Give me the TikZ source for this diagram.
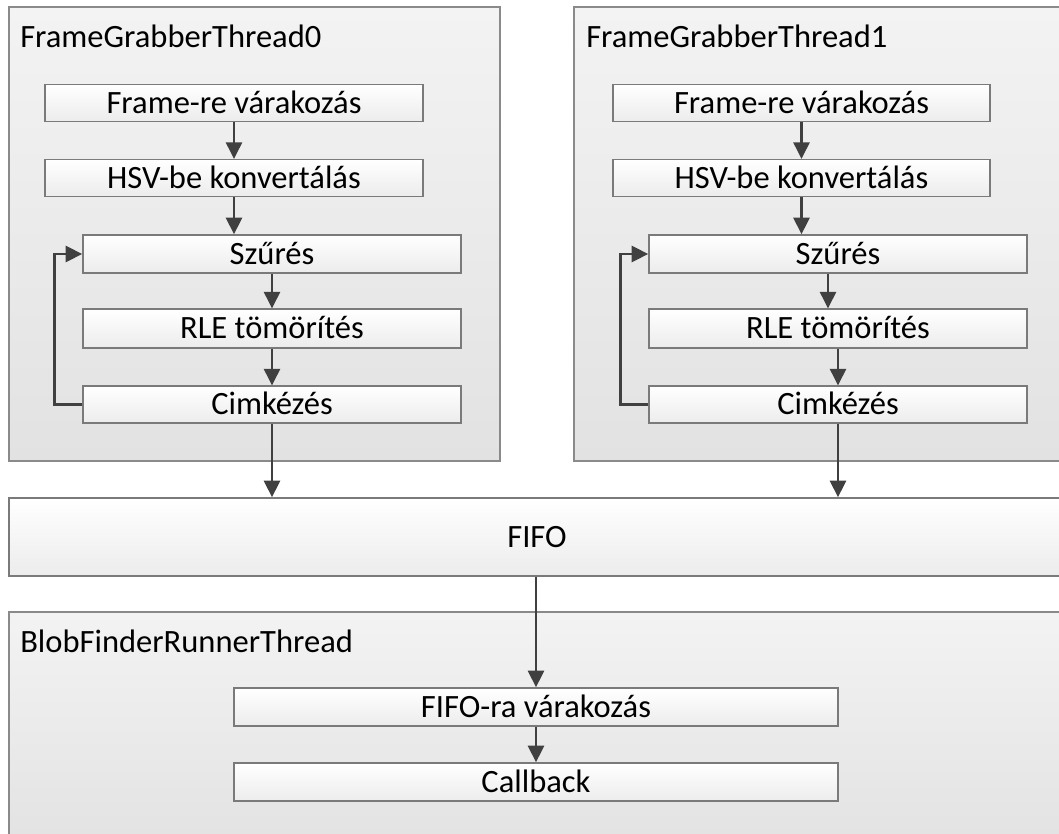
\documentclass[tikz,border=0pt]{standalone}
\usepackage{fontspec}
\setmainfont{Carlito}
\usetikzlibrary{arrows.meta}

\definecolor{panelline}{HTML}{8A8A8A}
\definecolor{boxline}{HTML}{7A7A7A}
\definecolor{flowline}{HTML}{404040}
\definecolor{paneltop}{HTML}{F3F3F3}
\definecolor{panelbot}{HTML}{E2E2E2}
\definecolor{boxbot}{HTML}{ECECEC}

\begin{document}
\begin{tikzpicture}[
  x=0.75pt, y=-0.75pt,
  every node/.style={font=\fontsize{24.4}{29}\selectfont, text=black},
  panel/.style={draw=panelline, line width=1.1pt, top color=paneltop, bottom color=panelbot,
                rectangle, inner sep=0pt},
  stepbox/.style={draw=boxline, line width=1.1pt, top color=white, bottom color=boxbot,
                  rectangle, inner sep=0pt, text height=15.7pt, text depth=0pt,
                  minimum height=27.5pt},
  title/.style={anchor=base west, inner sep=0pt},
  flow/.style={draw=flowline, line width=2.2pt,
               -{Triangle[length=12.5pt,width=12pt]}}
]
\useasboundingbox (0,0) rectangle (1059,834);
\clip (0,0) rectangle (1059,834);

% ---- thread containers ----
\node[panel, minimum width=368.25pt, minimum height=340.5pt] (thread0) at (254.5,234) {};
\node[panel, minimum width=372pt, minimum height=340.5pt] (thread1) at (822,234) {};
\node[title] (title0) at (20,48) {FrameGrabberThread0};
\node[title] (title1) at (586,48) {FrameGrabberThread1};

% ---- FrameGrabberThread0 steps ----
\node[stepbox, minimum width=283.5pt] (f0) at (234,103) {Frame-re várakozás};
\node[stepbox, minimum width=283.5pt] (h0) at (234,178) {HSV-be konvertálás};
\node[stepbox, minimum width=283.5pt, minimum height=28.5pt] (s0) at (272,254) {Szűrés};
\node[stepbox, minimum width=283.5pt, minimum height=29pt] (r0) at (272,328.5) {RLE tömörítés};
\node[stepbox, minimum width=283.5pt] (c0) at (272,404.5) {Cimkézés};

% ---- FrameGrabberThread1 steps ----
\node[stepbox, minimum width=282.75pt] (f1) at (801.5,103) {Frame-re várakozás};
\node[stepbox, minimum width=282.75pt] (h1) at (801.5,178) {HSV-be konvertálás};
\node[stepbox, minimum width=283.5pt, minimum height=28.5pt] (s1) at (838,254) {Szűrés};
\node[stepbox, minimum width=283.5pt, minimum height=29pt] (r1) at (838,328.5) {RLE tömörítés};
\node[stepbox, minimum width=283.5pt] (c1) at (838,404.5) {Cimkézés};

% ---- shared queue ----
\node[stepbox, minimum width=792pt, minimum height=58.5pt] (fifo) at (537,537) {FIFO};

% ---- consumer thread ----
\node[panel, minimum width=792pt, minimum height=178.5pt] (runner) at (537,731) {};
\node[title] (title2) at (20,652) {BlobFinderRunnerThread};
\node[stepbox, minimum width=453pt, minimum height=28.5pt] (w2) at (536,707) {FIFO-ra várakozás};
\node[stepbox, minimum width=453pt, minimum height=28.5pt] (cb) at (536,782) {Callback};

% ---- flow in thread 0 ----
\draw[flow] (f0.south) -- (h0.north);
\draw[flow] (h0.south) -- (h0.south |- s0.north);
\draw[flow] (s0.south) -- (r0.north);
\draw[flow] (r0.south) -- (c0.north);
\draw[flow] (c0.west) -- ++(-28,0) |- (s0.west);
\draw[flow] (c0.south) -- (c0.south |- fifo.north);

% ---- flow in thread 1 ----
\draw[flow] (f1.south) -- (h1.north);
\draw[flow] (h1.south) -- (h1.south |- s1.north);
\draw[flow] ([xshift=-7.5pt]s1.south) -- ([xshift=-7.5pt]r1.north);
\draw[flow] (r1.south) -- (c1.north);
\draw[flow] (c1.west) -- ++(-28,0) |- (s1.west);
\draw[flow] (c1.south) -- (c1.south |- fifo.north);

% ---- consumer flow ----
\draw[flow] (fifo.south -| w2.north) -- (w2.north);
\draw[flow] (w2.south) -- (cb.north);
\end{tikzpicture}
\end{document}
